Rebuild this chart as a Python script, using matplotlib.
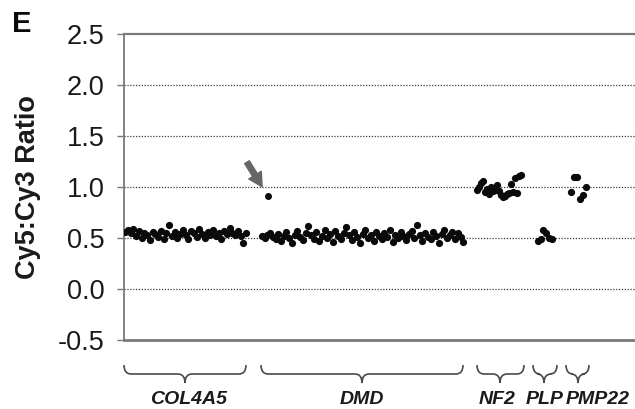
import numpy as np
import matplotlib
matplotlib.use("Agg")
import matplotlib.pyplot as plt
from matplotlib.path import Path
from matplotlib.patches import PathPatch
import matplotlib.transforms as mtransforms

plt.rcParams['font.family'] = ['Liberation Sans', 'DejaVu Sans']

# ---- data (ratio values) ----
genes = ['COL4A5', 'DMD', 'NF2', 'PLP', 'PMP22']

col4a5 = [0.56, 0.58, 0.55, 0.59, 0.52, 0.57, 0.50, 0.55, 0.53, 0.48, 0.56, 0.54,
          0.51, 0.57, 0.49, 0.55, 0.63, 0.52, 0.56, 0.50, 0.54, 0.58, 0.53, 0.49,
          0.57, 0.55, 0.51, 0.59, 0.54, 0.50, 0.56, 0.53, 0.58, 0.52, 0.55, 0.49,
          0.57, 0.54, 0.60, 0.55, 0.53, 0.57, 0.52, 0.45, 0.55]
dmd = [0.52, 0.50, 0.53, 0.55, 0.51, 0.49, 0.54, 0.47, 0.52, 0.56, 0.50, 0.45,
       0.53, 0.57, 0.51, 0.48, 0.55, 0.62, 0.53, 0.49, 0.56, 0.47, 0.52, 0.58,
       0.50, 0.54, 0.46, 0.57, 0.52, 0.49, 0.55, 0.61, 0.53, 0.48, 0.56, 0.51,
       0.45, 0.54, 0.58, 0.50, 0.53, 0.47, 0.56, 0.52, 0.49, 0.55, 0.51, 0.58,
       0.46, 0.53, 0.50, 0.56, 0.52, 0.48, 0.54, 0.57, 0.50, 0.63, 0.53, 0.47,
       0.55, 0.51, 0.49, 0.56, 0.52, 0.45, 0.54, 0.58, 0.50, 0.53, 0.56, 0.49,
       0.55, 0.51, 0.46]
dmd_outlier = 0.91
nf2 = [0.97, 1.00, 1.04, 1.06, 0.95, 0.98, 0.93, 1.00, 0.96, 0.97, 1.02, 0.96,
       0.92, 0.90, 0.91, 0.93, 0.94, 1.03, 0.95, 1.09, 0.94, 1.11, 1.12]
plp = [0.47, 0.49, 0.58, 0.55, 0.50, 0.49]
pmp22 = [0.95, 1.10, 1.10, 0.88, 0.92, 1.00]

values = [col4a5, dmd, nf2, plp, pmp22]

yticks = [-0.5, 0.0, 0.5, 1.0, 1.5, 2.0, 2.5]
ytick_labels = ['-0.5', '0.0', '0.5', '1.0', '1.5', '2.0', '2.5']

# ---- layout (x in pixel offsets from the left axis) ----
starts = [1, 138, 353, 414, 447]
steps = [2.75, 2.72, 2.0, 2.7, 3.0]
outlier_x = 144
brace_spans = [(0, 122), (137, 339), (353, 400), (409, 433), (442, 465)]
brace_tips = [61, 238, 376, 420, 454]
label_x = [65, 238, 373, 421, 474]

fig = plt.figure(figsize=(6.35, 4.09), dpi=100)
ax = fig.add_axes([124 / 635, 69 / 409, 511 / 635, 306 / 409])

for st, sp, vals in zip(starts, steps, values):
    xs = st + sp * np.arange(len(vals))
    ax.plot(xs, vals, 'o', color='#0a0a0a', ms=5.2, mew=0, zorder=3)
ax.plot([outlier_x], [dmd_outlier], 'o', color='#0a0a0a', ms=5.0, mew=0, zorder=3)

ax.annotate('', xy=(outlier_x, dmd_outlier), xycoords='data',
            xytext=(-21, 34), textcoords='offset pixels',
            arrowprops=dict(arrowstyle='simple,head_length=0.7,head_width=0.75,tail_width=0.28',
                            color='#666666', shrinkA=0, shrinkB=8, mutation_scale=14))

ax.set_xlim(0, 511)
ax.set_ylim(-0.5, 2.5)
ax.set_yticks(yticks)
ax.set_yticklabels(ytick_labels)
ax.set_xticks([])
for y in [0.0, 0.5, 1.0, 1.5, 2.0]:
    ax.axhline(y, color='#3a3a3a', lw=0.9, ls=(0, (1, 1.3)), zorder=1)

for side in ['top', 'bottom', 'left']:
    ax.spines[side].set_color('#7a7a7a')
ax.spines['top'].set_linewidth(1.6)
ax.spines['bottom'].set_linewidth(2.0)
ax.spines['left'].set_linewidth(1.3)
ax.spines['right'].set_visible(False)
ax.tick_params(axis='y', direction='out', length=5, width=1, color='#7a7a7a',
               labelsize=19.5, labelcolor='#1a1a1a', pad=9)

ax.set_ylabel('Cy5:Cy3 Ratio', fontsize=19.5, fontweight='bold', color='#1a1a1a', labelpad=12)

# ---- curly braces under the axis ----
trans = mtransforms.blended_transform_factory(ax.transData, ax.transAxes)
top, mid, tip = (340 - 365) / 306, (340 - 374) / 306, (340 - 383) / 306
r = 7
for (x0, x1), xm in zip(brace_spans, brace_tips):
    verts = [(x0, top), (x0, mid), (x0 + r, mid),
             (xm - r, mid), (xm, mid), (xm, tip),
             (xm, mid), (xm + r, mid),
             (x1 - r, mid), (x1, mid), (x1, top)]
    codes = [Path.MOVETO, Path.CURVE3, Path.CURVE3,
             Path.LINETO, Path.CURVE3, Path.CURVE3,
             Path.CURVE3, Path.CURVE3,
             Path.LINETO, Path.CURVE3, Path.CURVE3]
    ax.add_patch(PathPatch(Path(verts, codes), transform=trans, fill=False,
                           edgecolor='#4a4a4a', lw=1.2, clip_on=False))

for g, lx in zip(genes, label_x):
    ax.text(lx, (340 - 400) / 306, g, transform=trans, ha='center', va='center',
            fontsize=14, fontweight='bold', fontstyle='italic', color='#1a1a1a')

fig.text(12 / 635, 1 - 24 / 409, 'E', fontsize=21, fontweight='bold', va='center',
         ha='left', color='#0a0a0a')

fig.savefig('out.png', dpi=100, facecolor='white')
